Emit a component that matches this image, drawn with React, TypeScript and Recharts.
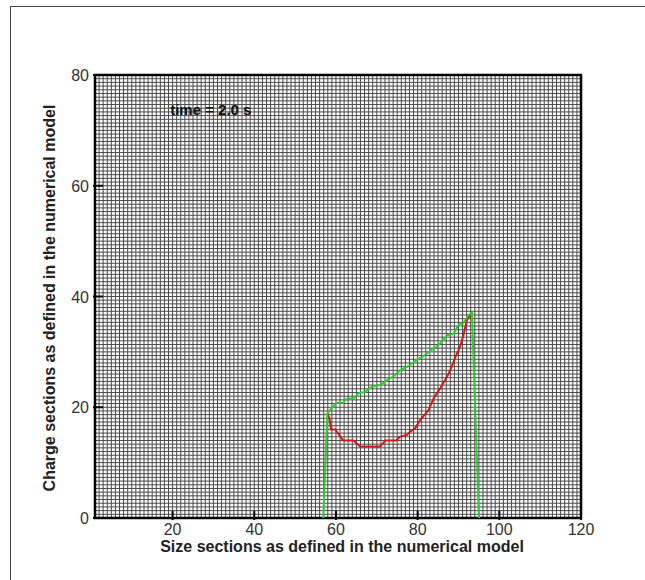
import React from 'react';
import {
  LineChart,
  Line,
  XAxis,
  YAxis,
  CartesianGrid,
  ReferenceArea,
  ReferenceDot,
} from 'recharts';

// size section (x) / charge section (y) pairs for the two boundary curves
const greenX = [56.9, 57.9, 58.6, 60.1, 61.8, 62.7, 64.3, 65.5, 67.2, 68.8, 70.8, 72.5, 74.1, 75.7, 77.4, 79.8, 81.1, 82.3, 83.9, 85.1, 87.2, 88.8, 90.0, 91.2, 92.5, 93.3, 95.0];
const greenY = [0, 18.9, 19.5, 20.8, 20.8, 21.6, 21.6, 22.5, 22.8, 23.7, 24.0, 24.9, 25.6, 26.7, 27.3, 28.5, 29.1, 29.7, 30.6, 31.2, 33.0, 33.3, 34.9, 35.2, 36.7, 37.0, 0];

const redX = [57.9, 58.4, 58.8, 59.8, 61.8, 64.3, 65.9, 70.8, 72.1, 74.8, 75.7, 77.4, 78.2, 79.4, 80.6, 82.7, 83.9, 85.5, 87.2, 88.0, 89.6, 90.4, 91.3, 92.1, 93.3];
const redY = [18.9, 18.0, 16.0, 16.0, 14.0, 14.0, 12.9, 12.9, 14.0, 14.0, 14.7, 15.0, 15.6, 16.2, 17.7, 19.5, 21.6, 23.4, 25.5, 26.7, 29.7, 30.9, 33.3, 35.8, 37.0];

const xTicks = [20, 40, 60, 80, 100, 120];
const yTicks = [0, 20, 40, 60, 80];

const X_MIN = 1;
const X_MAX = 120;
const Y_MAX = 80;

// numerical mesh: 120 size sections by 120 charge sections
const meshX = Array.from({ length: 120 }, (_, i) => i + 1);
const meshY = Array.from({ length: 121 }, (_, i) => (i * Y_MAX) / 120);

const greenData = greenX.map((x, i) => ({ x, y: greenY[i] }));
const redData = redX.map((x, i) => ({ x, y: redY[i] }));

const font = 'Arial, "Liberation Sans", sans-serif';

// grid line positions follow the plot box, one per mesh cell
const meshVertical = ({ offset }: any) =>
  meshX.map((v) => offset.left + ((v - X_MIN) / (X_MAX - X_MIN)) * offset.width);
const meshHorizontal = ({ offset }: any) =>
  meshY.map((v) => offset.top + offset.height - (v / Y_MAX) * offset.height);

function XTick(props: any) {
  const { x, y, payload } = props;
  return (
    <g>
      <line x1={x} x2={x} y1={y} y2={y - 9} stroke="#000" strokeWidth={2} />
      <text x={x} y={y + 15} textAnchor="middle" fontSize={16} fill="#333" fontFamily={font}>
        {payload.value}
      </text>
    </g>
  );
}

function YTick(props: any) {
  const { x, y, payload } = props;
  return (
    <g>
      <line x1={x} x2={x + 10} y1={y} y2={y} stroke="#000" strokeWidth={2} />
      <text x={x - 4} y={y + 6} textAnchor="end" fontSize={16} fill="#333" fontFamily={font}>
        {payload.value}
      </text>
    </g>
  );
}

function TimeLabel(props: any) {
  const { viewBox } = props;
  return (
    <text x={viewBox.x} y={viewBox.y + 5} fontSize={15} fontWeight="bold" fill="#111" fontFamily={font}>
      time = 2.0 s
    </text>
  );
}

export default function App() {
  return (
    <div style={{ position: 'absolute', left: 0, top: 0, width: 645, height: 580, overflow: 'hidden', background: '#fff' }}>
      <div
        style={{
          position: 'absolute',
          left: 10,
          top: 6,
          width: 700,
          height: 700,
          borderLeft: '1.5px solid #444',
          borderTop: '1.5px solid #444',
        }}
      />
      <LineChart
        width={645}
        height={580}
        margin={{ top: 75, right: 64, bottom: 0, left: 0 }}
        style={{ position: 'absolute', left: 0, top: 0 }}
      >
        <CartesianGrid
          verticalCoordinatesGenerator={meshVertical}
          horizontalCoordinatesGenerator={meshHorizontal}
          stroke="#4a4a4a"
          strokeWidth={1}
        />
        <XAxis
          type="number"
          dataKey="x"
          domain={[X_MIN, X_MAX]}
          ticks={xTicks}
          height={62}
          tickLine={false}
          axisLine={false}
          tickSize={0}
          tick={<XTick />}
          allowDataOverflow
        />
        <YAxis
          type="number"
          dataKey="y"
          domain={[0, Y_MAX]}
          ticks={yTicks}
          width={95}
          tickLine={false}
          axisLine={false}
          tickSize={0}
          tick={<YTick />}
          allowDataOverflow
        />
        <ReferenceArea
          x1={X_MIN}
          x2={X_MAX}
          y1={0}
          y2={Y_MAX}
          fill="none"
          stroke="#000"
          strokeWidth={2.5}
          ifOverflow="visible"
        />
        <Line
          data={redData}
          dataKey="y"
          type="linear"
          stroke="#d01818"
          strokeWidth={2}
          dot={false}
          isAnimationActive={false}
        />
        <Line
          data={greenData}
          dataKey="y"
          type="linear"
          stroke="#2ecc2e"
          strokeWidth={2}
          dot={false}
          isAnimationActive={false}
        />
        <ReferenceDot x={19.4} y={73.7} r={0} label={<TimeLabel />} ifOverflow="visible" />
      </LineChart>
      <div
        style={{
          position: 'absolute',
          left: 0,
          width: 684,
          top: 538,
          textAlign: 'center',
          fontFamily: font,
          fontWeight: 'bold',
          fontSize: 16,
          lineHeight: '18px',
          color: '#222',
          whiteSpace: 'nowrap',
        }}
      >
        Size sections as defined in the numerical model
      </div>
      <div
        style={{
          position: 'absolute',
          left: 50,
          top: 298,
          transform: 'translate(-50%, -50%) rotate(-90deg)',
          fontFamily: font,
          fontWeight: 'bold',
          fontSize: 16,
          color: '#222',
          whiteSpace: 'nowrap',
        }}
      >
        Charge sections as defined in the numerical model
      </div>
    </div>
  );
}
